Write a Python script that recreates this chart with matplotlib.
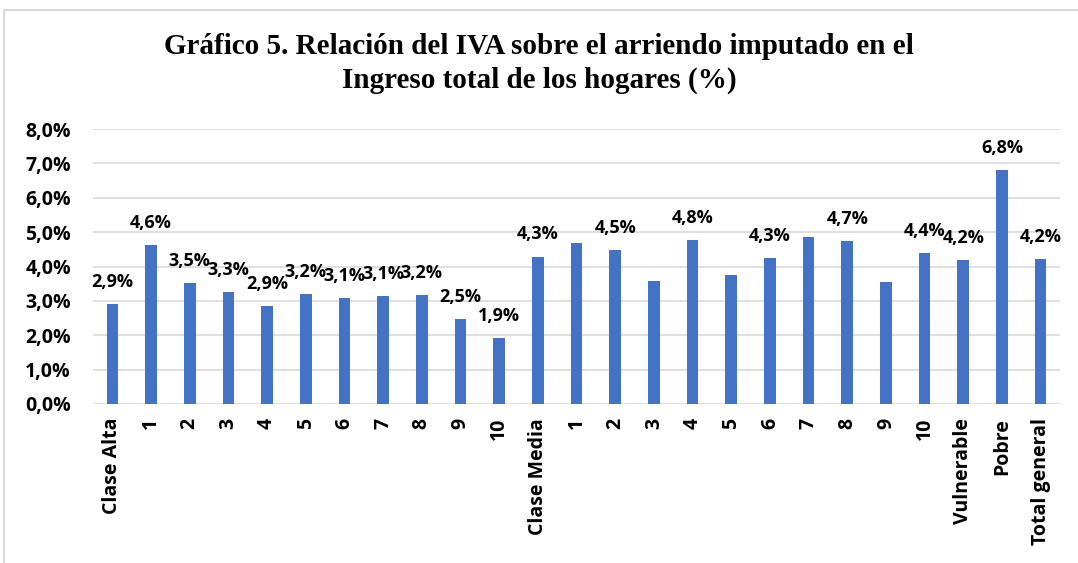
import matplotlib
matplotlib.use("Agg")
import matplotlib.pyplot as plt
from matplotlib.patches import Rectangle
from matplotlib.ticker import FuncFormatter

# categorias (deciles por clase)
categorias = ["Clase Alta", "1", "2", "3", "4", "5", "6", "7", "8", "9", "10",
              "Clase Media", "1", "2", "3", "4", "5", "6", "7", "8", "9", "10",
              "Vulnerable", "Pobre", "Total general"]

# IVA sobre arriendo imputado / ingreso total (%)
valores = [2.92, 4.62, 3.53, 3.26, 2.86, 3.20, 3.08, 3.14, 3.16, 2.47, 1.93,
           4.29, 4.68, 4.49, 3.58, 4.76, 3.75, 4.25, 4.86, 4.73, 3.56, 4.38,
           4.19, 6.81, 4.23]

# etiquetas visibles en el grafico (None = sin etiqueta)
etiquetas = ["2,9%", "4,6%", "3,5%", "3,3%", "2,9%", "3,2%", "3,1%", "3,1%", "3,2%", "2,5%", "1,9%",
             "4,3%", None, "4,5%", None, "4,8%", None, "4,3%", None, "4,7%", None, "4,4%",
             "4,2%", "6,8%", "4,2%"]

ticks_y = [0, 1, 2, 3, 4, 5, 6, 7, 8]

AZUL = "#4472C4"
GRIS = "#d9d9d9"
FUENTE = ["Open Sans", "DejaVu Sans"]

fig = plt.figure(figsize=(10.78, 5.63), dpi=100)
ax = fig.add_axes([93/1078, 1 - 404/563, (1060-93)/1078, (404-129)/563])

x = list(range(len(categorias)))
ax.bar(x, valores, width=0.3, color=AZUL, zorder=3)

for xi, v, lab in zip(x, valores, etiquetas):
    if lab is None:
        continue
    ax.text(xi, v + 0.38, lab, ha="center", va="bottom", fontsize=13,
            fontweight="bold", family=FUENTE, color="black", zorder=4)

ax.set_ylim(0, 8)
ax.set_xlim(-0.5, len(categorias) - 0.5)
ax.set_yticks(ticks_y)
ax.yaxis.set_major_formatter(FuncFormatter(lambda v, p: ("%.1f%%" % v).replace(".", ",")))
ax.grid(axis="y", color=GRIS, linewidth=1.2, zorder=0)
ax.set_xticks(x)
ax.set_xticklabels(categorias, rotation=90, fontsize=14, fontweight="bold", family=FUENTE)
for t in ax.get_yticklabels():
    t.set_fontsize(14)
    t.set_fontweight("bold")
    t.set_family(FUENTE)
ax.tick_params(axis="x", length=0, pad=10)
ax.tick_params(axis="y", length=0, pad=16)
for s in ax.spines.values():
    s.set_visible(False)

fig.text(0.5, 1 - 47/563, "Gráfico 5. Relación del IVA sobre el arriendo imputado en el",
         ha="center", va="center", fontsize=21, fontweight="bold", family="Liberation Serif")
fig.text(0.5, 1 - 80/563, "Ingreso total de los hogares (%)",
         ha="center", va="center", fontsize=21, fontweight="bold", family="Liberation Serif")

# marco exterior
fig.patches.append(Rectangle((4/1078, -0.05), 1.2, 1 - 10/563 + 0.05, transform=fig.transFigure,
                             fill=False, edgecolor=GRIS, linewidth=1.5))

fig.savefig("out.png", dpi=100)
